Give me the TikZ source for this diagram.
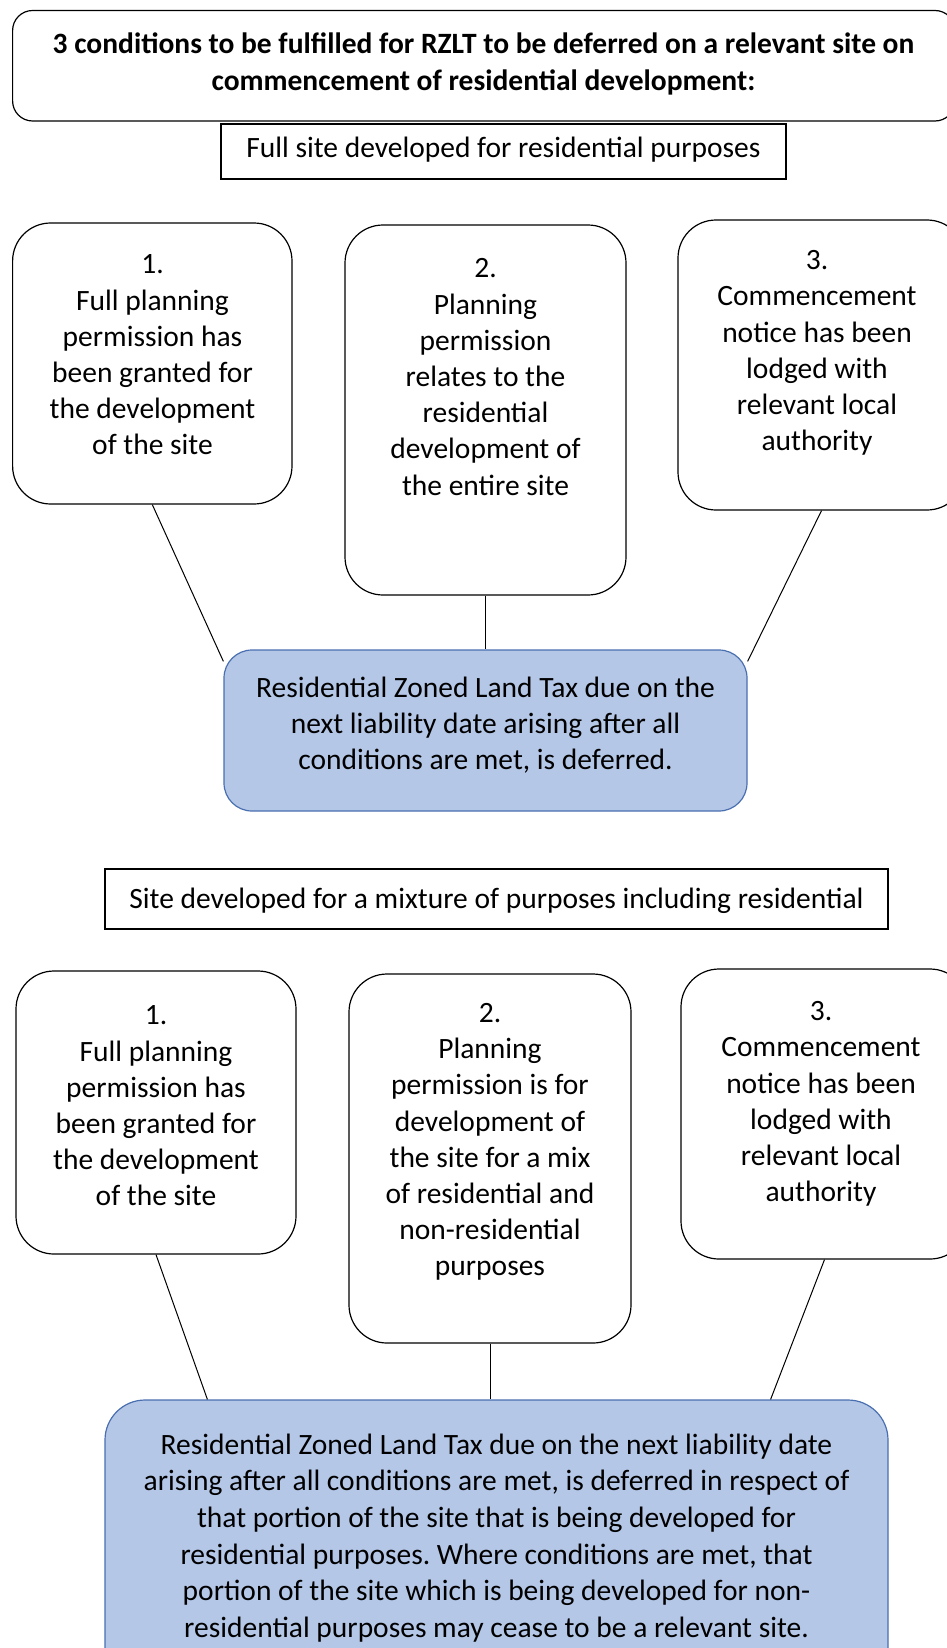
\documentclass[tikz,border=0pt]{standalone}
\usepackage{fontspec}
\setmainfont{Carlito}
\definecolor{bluefill}{HTML}{B4C7E7}
\definecolor{blueline}{HTML}{4A6FB0}
\frenchspacing
\begin{document}
\begin{tikzpicture}[x=1pt,y=-1pt,
  box/.style={draw=black, line width=1.2pt, rounded corners=38pt, inner sep=0pt},
  titlebox/.style={draw=black, line width=1.2pt, rounded corners=20pt, inner sep=0pt},
  plainbox/.style={draw=black, line width=1.2pt, inner sep=0pt},
  bluebox/.style={draw=blueline, fill=bluefill, line width=1.2pt, inner sep=0pt},
  txt/.style={align=center, inner sep=0pt, font=\fontsize{29.5}{36.2}\selectfont},
  conn/.style={draw=black, line width=1pt}]
\useasboundingbox (0,0) rectangle (947,1648);

% top section
\node[titlebox, minimum width=942.4pt, minimum height=110.5pt] (top) at (483.8,65.75) {};
\node[txt, font=\fontsize{29.5}{36.2}\selectfont\bfseries] (ttop) at (483.5,64) {3 conditions to be fulfilled for RZLT to be deferred on a relevant site on\\commencement of residential development:};
\node[plainbox, minimum width=565pt, minimum height=55pt] (sub1) at (503.5,151.5) {};
\node[txt] (tsub1) at (503.5,150) {Full site developed for residential purposes};

\node[box, minimum width=279.4pt, minimum height=281pt] (b1a) at (152.3,363.5) {};
\node[txt] (t1a) at (152.5,355) {1.\\Full planning\\permission has\\been granted for\\the development\\of the site};
\node[box, minimum width=281pt, minimum height=370pt] (b2a) at (485.5,410) {};
\node[txt] (t2a) at (485.5,377) {2.\\Planning\\permission\\relates to the\\residential\\development of\\the entire site};
\node[box, minimum width=287pt, minimum height=290pt] (b3a) at (821.5,365) {};
\node[txt] (t3a) at (817,353) {3.\\Commencement\\notice has been\\lodged with\\relevant local\\authority};

\node[bluebox, rounded corners=28pt, minimum width=523pt, minimum height=161pt] (blue1) at (485.5,730.5) {};
\node[txt] (tblue1) at (485.5,725) {Residential Zoned Land Tax due on the\\next liability date arising after all\\conditions are met, is deferred.};
\draw[conn] (b1a.south) -- ([yshift=-12pt]blue1.north west);
\draw[conn] (b2a.south) -- (b2a.south |- blue1.north);
\draw[conn] (b3a.south) -- ([yshift=-12pt]blue1.north east);

% bottom section
\node[plainbox, minimum width=783pt, minimum height=60pt] (sub2) at (496.5,899) {};
\node[txt] (tsub2) at (496.5,901) {Site developed for a mixture of purposes including residential};

\node[box, minimum width=280pt, minimum height=283pt] (b1b) at (156,1112.5) {};
\node[txt] (t1b) at (156,1106) {1.\\Full planning\\permission has\\been granted for\\the development\\of the site};
\node[box, minimum width=282pt, minimum height=369pt] (b2b) at (490,1158.5) {};
\node[txt] (t2b) at (490,1142) {2.\\Planning\\permission is for\\development of\\the site for a mix\\of residential and\\non-residential\\purposes};
\node[box, minimum width=287pt, minimum height=290pt] (b3b) at (824.5,1114) {};
\node[txt] (t3b) at (821,1104) {3.\\Commencement\\notice has been\\lodged with\\relevant local\\authority};

\node[bluebox, rounded corners=40pt, minimum width=783pt, minimum height=290pt] (blue2) at (496.5,1545) {};
\node[txt, font=\fontsize{29.5}{36.6}\selectfont] (tblue2) at (496.5,1538) {Residential Zoned Land Tax due on the next liability date\\arising after all conditions are met, is deferred in respect of\\that portion of the site that is being developed for\\residential purposes. Where conditions are met, that\\portion of the site which is being developed for non-\\residential purposes may cease to be a relevant site.};
\draw[conn] (b1b.south) -- ([xshift=103pt]blue2.north west);
\draw[conn] (b2b.south) -- (b2b.south |- blue2.north);
\draw[conn] (b3b.south) -- ([xshift=-118pt]blue2.north east);
\end{tikzpicture}
\end{document}
